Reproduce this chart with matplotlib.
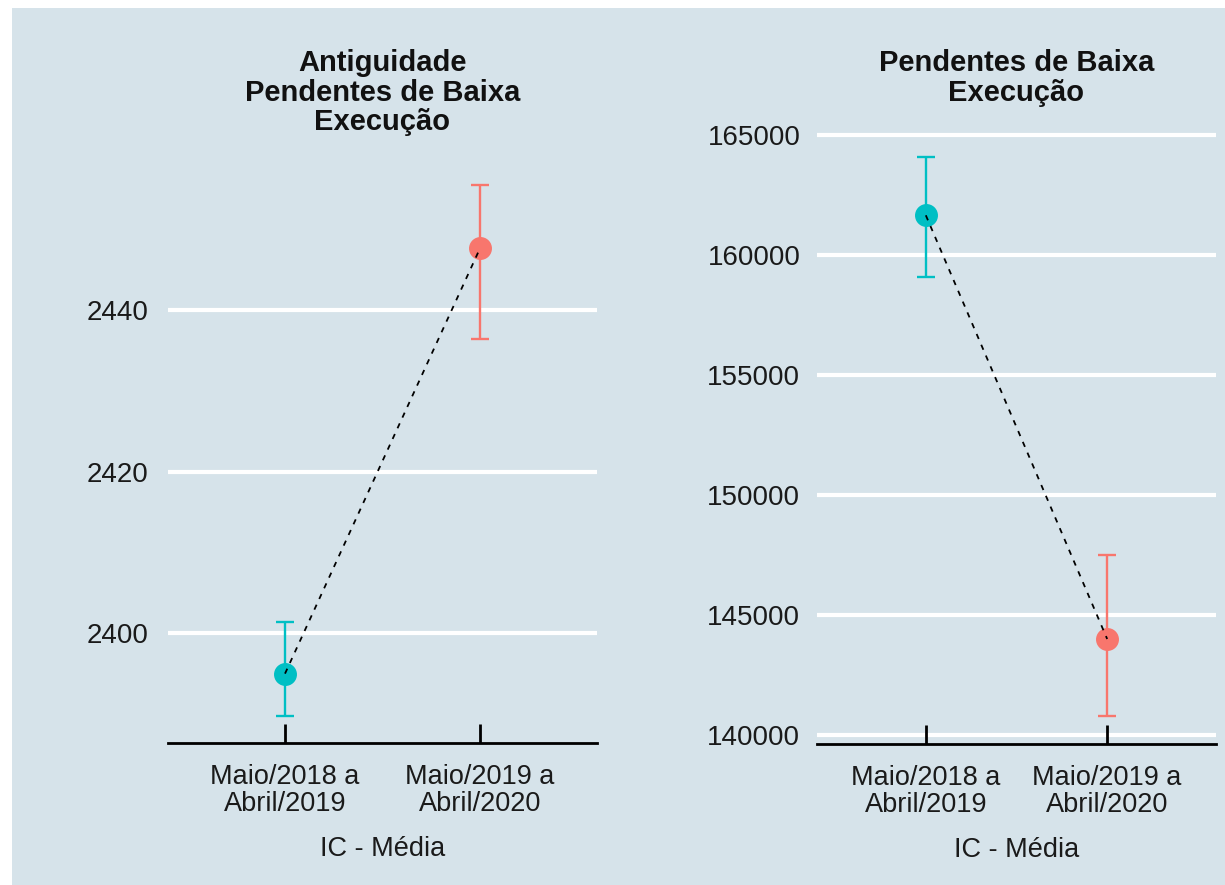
import matplotlib
matplotlib.use("Agg")
import matplotlib.pyplot as plt
from matplotlib.patches import Rectangle

plt.rcParams['font.family'] = ['Liberation Sans', 'DejaVu Sans']

categories = ["Maio/2018 a\nAbril/2019", "Maio/2019 a\nAbril/2020"]
colors = ["#00BFC4", "#F8766D"]

left_title = ["Antiguidade", "Pendentes de Baixa", "Execução"]
left_mean = [2395.0, 2447.7]
left_low = [2389.7, 2436.5]
left_high = [2401.4, 2455.6]
left_ticks = [2400, 2420, 2440]

right_title = ["Pendentes de Baixa", "Execução"]
right_mean = [161650, 144000]
right_low = [159080, 140790]
right_high = [164080, 147500]
right_ticks = [140000, 145000, 150000, 155000, 160000, 165000]

xlabel = "IC - Média"

BG = "#d6e3ea"
TXT = "#1a1a1a"
W, H = 1225, 885
fig = plt.figure(figsize=(W / 100, H / 100), dpi=100, facecolor="white")
fig.patches.append(Rectangle((12 / W, 0), 1 - 12 / W, 1 - 8 / H, transform=fig.transFigure,
                             facecolor=BG, edgecolor="none", zorder=-10))


def panel(rect, mean, low, high, ticks, title_lines, title_ys, ypad):
    ax = fig.add_axes(rect)
    ax.set_facecolor(BG)
    ax.patch.set_alpha(0)
    x = list(range(len(categories)))
    lo = min(low)
    hi = max(high)
    pad = 0.05 * (hi - lo)
    ax.set_ylim(lo - pad, hi + pad)
    ax.set_xlim(-0.6, len(categories) - 0.4)
    for t in ticks:
        ax.axhline(t, color="white", lw=3.0, zorder=1)
    ax.plot(x, mean, color="black", lw=1.3, ls=(0, (3, 3.5)), zorder=3)
    for i in x:
        ax.errorbar([i], [mean[i]], yerr=[[mean[i] - low[i]], [high[i] - mean[i]]],
                    fmt="o", color=colors[i], ms=15.5, elinewidth=1.7, capsize=6.5,
                    capthick=1.7, zorder=2)
    for s in ["top", "right", "left"]:
        ax.spines[s].set_visible(False)
    ax.spines["bottom"].set_linewidth(2.0)
    ax.spines["bottom"].set_color("black")
    ax.set_yticks(ticks)
    ax.set_yticklabels([str(t) for t in ticks])
    ax.set_xticks(x)
    ax.set_xticklabels(categories, linespacing=1.06)
    ax.tick_params(axis="y", length=0, pad=ypad, labelsize=20, labelcolor=TXT)
    ax.tick_params(axis="x", direction="in", length=13.5, width=2.0, color="black",
                   pad=15, labelsize=19.5, labelcolor=TXT)
    ax.set_xlabel(xlabel, fontsize=19.5, color=TXT, labelpad=14)
    pos = ax.get_position()
    cx = pos.x0 + pos.width / 2
    for line, yy in zip(title_lines, title_ys):
        fig.text(cx, 1 - yy / H, line, ha="center", va="center", fontsize=21,
                 fontweight="bold", color="#111111")
    return ax


panel([168 / W, 1 - 743 / H, (597 - 168) / W, (743 - 158) / H],
      left_mean, left_low, left_high, left_ticks, left_title, [63, 93, 122], 14)
panel([817 / W, 1 - 744 / H, (1216 - 817) / W, (744 - 129) / H],
      right_mean, right_low, right_high, right_ticks, right_title, [63, 93], 12)

fig.savefig("out.png", dpi=100, facecolor="white")
